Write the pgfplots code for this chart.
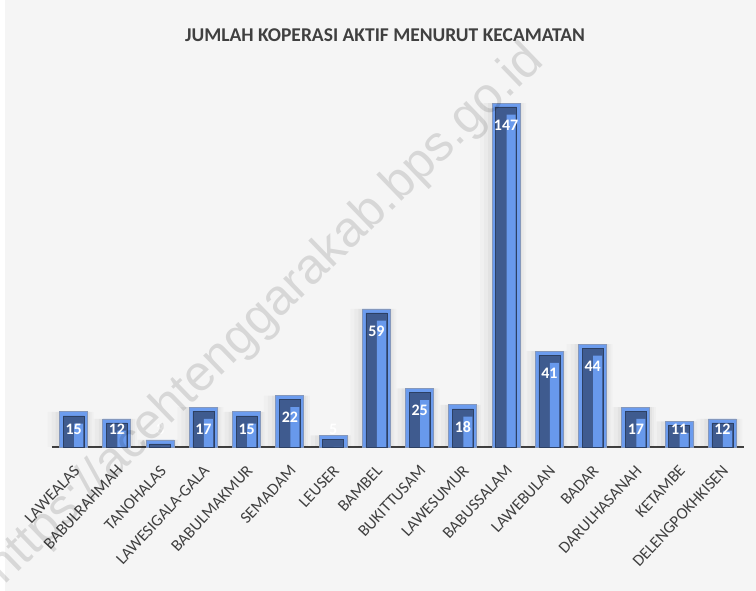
\documentclass[border=0pt]{standalone}
\usepackage{pgfplots}
\pgfplotsset{compat=1.18}
\usepackage{pgfplotstable}
\usepackage{fontspec}
\setmainfont{Carlito}
\newfontfamily\wmfont{Liberation Sans}
\definecolor{bg}{HTML}{F5F5F5}
\definecolor{barlight}{HTML}{6C9CEE}
\definecolor{barline}{HTML}{8598BC}
\definecolor{bardark}{HTML}{3F5B8F}
\definecolor{barmid}{HTML}{6899EC}
\definecolor{txt}{HTML}{404040}

\pgfplotstableread{
x v
0 15
1 12
2 3
3 17
4 15
5 22
6 5
7 59
8 25
9 18
10 147
11 41
12 44
13 17
14 11
15 12
}\data

\begin{document}
\begin{tikzpicture}
\fill[bg] (0pt,0pt) rectangle (756pt,591pt);
\fill[white] (0pt,0pt) rectangle (5pt,591pt);
\node[text=txt, font=\bfseries\fontsize{19.5}{21}\selectfont] at (385pt,556pt) {JUMLAH KOPERASI AKTIF MENURUT KECAMATAN};
\begin{axis}[
  at={(52pt,144pt)}, anchor=south west,
  scale only axis, width=692pt, height=374.4pt,
  xmin=-0.5, xmax=15.5, ymin=0, ymax=160,
  axis x line*=bottom, axis y line=none,
  x axis line style={line width=2pt, draw=txt, -},
  xtick={0,...,15},
  xticklabels={LAWEALAS,BABULRAHMAH,TANOHALAS,LAWESIGALA-GALA,BABULMAKMUR,SEMADAM,LEUSER,BAMBEL,BUKITTUSAM,LAWESUMUR,BABUSSALAM,LAWEBULAN,BADAR,DARULHASANAH,KETAMBE,DELENGPOKHKISEN},
  major tick length=0pt,
  xticklabel style={yshift=-17pt, xshift=-1pt, rotate=47, anchor=north east, font=\fontsize{16.5}{16.5}\selectfont, text=txt, inner sep=0pt},
  ytick=\empty,
  clip=false,
]
% soft shadow
\addplot[ybar, bar width=46pt, bar shift=-3pt, fill=black, fill opacity=0.02, draw=none] table[x=x,y=v]{\data};
\addplot[ybar, bar width=40pt, bar shift=-2pt, fill=black, fill opacity=0.025, draw=none] table[x=x,y=v]{\data};
\addplot[ybar, bar width=34pt, bar shift=-1pt, fill=black, fill opacity=0.03, draw=none] table[x=x,y=v]{\data};
% outer frame
\addplot[ybar, bar width=28pt, bar shift=0pt, fill=barlight, draw=barline, line width=0.8pt] table[x=x,y=v]{\data};
% inner dark face
\addplot[ybar, bar width=21pt, bar shift=0pt, fill=bardark, draw=black!30!bardark, line width=0.5pt] table[x=x, y expr={max(\thisrow{v}-1.7,0)}]{\data};
% light right half
\addplot[ybar, bar width=9pt, bar shift=5pt, fill=barmid, draw=none] table[x=x, y expr={max(\thisrow{v}-5,0)}]{\data};
% value labels
\addplot[draw=none, mark=none, point meta=explicit,
  /pgf/number format/assume math mode=true,
  nodes near coords,
  every node near coord/.append style={font=\bfseries\fontsize{16}{16}\selectfont, text=white, anchor=center}]
  table[x=x, y expr={max(\thisrow{v}-9.4,7.7)}, meta=v]{\data};
\end{axis}
\node[rotate=44, text=black, opacity=0.12, font=\wmfont\fontsize{50}{50}\selectfont] at (266pt,276pt) {https://acehtenggarakab.bps.go.id};
\pgfresetboundingbox
\useasboundingbox (0pt,0pt) rectangle (756pt,591pt);
\end{tikzpicture}
\end{document}
